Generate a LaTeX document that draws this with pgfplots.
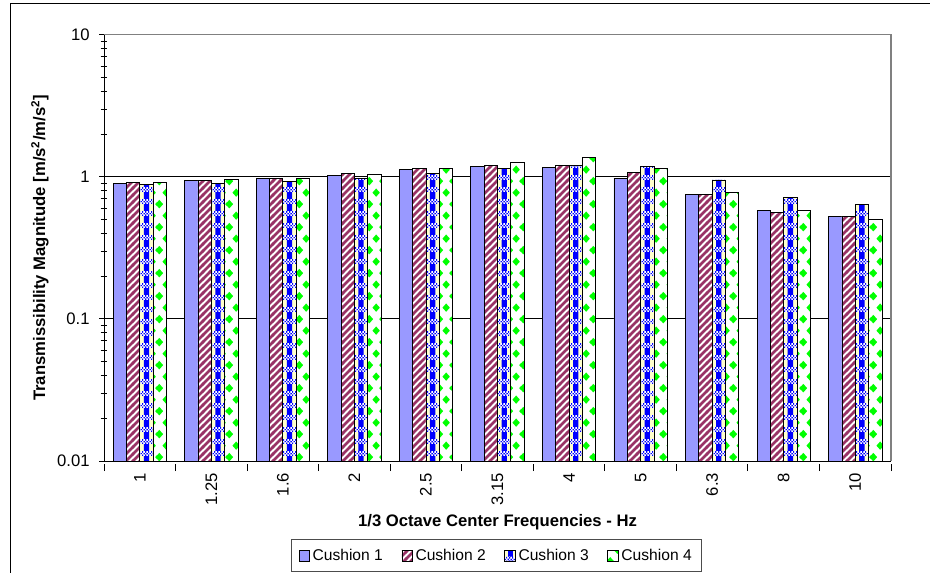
\documentclass[border=0pt]{standalone}
\usepackage{fontspec}
\setmainfont{Liberation Sans}
\usepackage{pgfplots}
\usepackage{pgfplotstable}
\pgfplotsset{compat=1.18}
\usetikzlibrary{patterns}

\definecolor{cA}{HTML}{9999FF}
\definecolor{cB}{HTML}{993366}
\definecolor{cCy}{HTML}{FFFFCC}
\definecolor{cCb}{HTML}{0000FF}
\definecolor{cD}{HTML}{00FF00}

\newcommand\dmd[2]{%
  \pgfpathmoveto{\pgfqpoint{\dimexpr#1pt-2.9pt\relax}{#2pt}}%
  \pgfpathlineto{\pgfqpoint{#1pt}{\dimexpr#2pt+3.2pt\relax}}%
  \pgfpathlineto{\pgfqpoint{\dimexpr#1pt+2.9pt\relax}{#2pt}}%
  \pgfpathlineto{\pgfqpoint{#1pt}{\dimexpr#2pt-3.2pt\relax}}%
  \pgfpathclose}

\pgfdeclarepatternformonly{mystripes}{\pgfqpoint{-1pt}{-1pt}}{\pgfqpoint{6.25pt}{6.25pt}}{\pgfqpoint{5.25pt}{5.25pt}}{%
  \pgfsetlinewidth{1.9pt}%
  \pgfpathmoveto{\pgfqpoint{-0.6pt}{-0.6pt}}%
  \pgfpathlineto{\pgfqpoint{5.85pt}{5.85pt}}%
  \pgfusepath{stroke}}
\pgfdeclarepatternformonly{checkA}{\pgfqpoint{0pt}{0pt}}{\pgfqpoint{2.5pt}{8.75pt}}{\pgfqpoint{2.5pt}{8.75pt}}{%
  \pgfpathrectangle{\pgfqpoint{0pt}{0pt}}{\pgfqpoint{1.25pt}{1.25pt}}%
  \pgfpathrectangle{\pgfqpoint{1.25pt}{1.25pt}}{\pgfqpoint{1.25pt}{1.25pt}}%
  \pgfpathrectangle{\pgfqpoint{0pt}{2.5pt}}{\pgfqpoint{1.25pt}{1.25pt}}%
  \pgfusepath{fill}}
\pgfdeclarepatternformonly{checkB}{\pgfqpoint{0pt}{0pt}}{\pgfqpoint{2.5pt}{8.75pt}}{\pgfqpoint{2.5pt}{8.75pt}}{%
  \pgfpathrectangle{\pgfqpoint{1.25pt}{0pt}}{\pgfqpoint{1.25pt}{1.25pt}}%
  \pgfpathrectangle{\pgfqpoint{0pt}{1.25pt}}{\pgfqpoint{1.25pt}{1.25pt}}%
  \pgfpathrectangle{\pgfqpoint{1.25pt}{2.5pt}}{\pgfqpoint{1.25pt}{1.25pt}}%
  \pgfusepath{fill}}
\pgfdeclarepatternformonly{diamonds}{\pgfqpoint{0pt}{0pt}}{\pgfqpoint{10.725pt}{17.5pt}}{\pgfqpoint{10.725pt}{17.5pt}}{%
  \dmd{7.19}{8.75}%
  \dmd{1.83}{0}\dmd{12.555}{0}\dmd{1.83}{17.5}\dmd{12.555}{17.5}%
  \pgfusepath{fill}}

\pgfplotsset{
  legA/.style={legend image code/.code={\draw[##1, line width=0.5pt] (0pt,-4pt) rectangle (8pt,4pt);}},
  legC/.style={legend image code/.code={\fill[cCy] (0pt,-4pt) rectangle (8pt,4pt);
     \fill[cCb] (2.5pt,-4pt) rectangle (5.5pt,4pt);
     \draw[##1, line width=0.5pt] (0pt,-4pt) rectangle (8pt,4pt);}},
  legD/.style={legend image code/.code={\draw[draw=black, fill=white, line width=0.5pt] (0pt,-4pt) rectangle (8pt,4pt);
     \path[fill=cD] (1.2pt,-3.2pt) -- (6.2pt,0pt) -- (1.2pt,3.2pt) -- cycle;
     \draw[draw=black, line width=0.5pt] (0pt,-4pt) rectangle (8pt,4pt);}},
}

\pgfplotstableread{
x c1 c2 c3 c4
0 0.90 0.91 0.88 0.91
1 0.94 0.94 0.90 0.96
2 0.98 0.98 0.93 0.98
3 1.03 1.05 0.98 1.04
4 1.12 1.14 1.05 1.14
5 1.18 1.21 1.14 1.27
6 1.17 1.21 1.21 1.37
7 0.98 1.07 1.19 1.14
8 0.755 0.755 0.95 0.78
9 0.58 0.56 0.72 0.58
10 0.53 0.53 0.64 0.50
}\data

\begin{document}
\begin{tikzpicture}
\begin{axis}[
  at={(78pt,-345.75pt)}, anchor=south west,
  scale only axis, width=590.25pt, height=319.7pt,
  ymode=log, ymin=0.01, ymax=10, log origin=infty,
  log ticks with fixed point,
  /pgf/number format/assume math mode=true,
  xmin=-0.5, xmax=10.5,
  axis lines=left, axis line style={-, black, line width=0.75pt},
  xtick={0,...,10},
  xticklabels={1,1.25,1.6,2,2.5,3.15,4,5,6.3,8,10},
  major x tick style={draw=none},
  minor xtick={-0.5,0.5,...,10.5},
  minor x tick style={black, line width=0.75pt, yshift=-2.5pt},
  tick align=center,
  major tick length=7.5pt, minor tick length=5pt,
  y tick style={black, line width=0.75pt},
  tick label style={font=\fontsize{12.5}{15}\selectfont},
  xticklabel style={rotate=90, anchor=east},
  xticklabel shift=-2pt,
  yticklabel shift=3.5pt,
  ymajorgrids, major grid style={black, line width=0.75pt},
  ylabel={Transmissibility Magnitude [m/s\textsuperscript{2}/m/s\textsuperscript{2}]},
  xlabel={1/3 Octave Center Frequencies - Hz},
  every axis y label/.style={at={(axis description cs:-0.0813,0.5)}, anchor=center, rotate=90,
     font=\fontsize{12.5}{15}\selectfont\bfseries},
  every axis x label/.style={at={(axis description cs:0.5,-0.143)}, anchor=center,
     font=\fontsize{12.5}{15}\selectfont\bfseries},
  ybar, bar width=10pt,
  legend columns=4,
  legend style={at={(axis description cs:0.4987,-0.2217)}, anchor=center,
    draw=black!70, line width=0.75pt, font=\fontsize{11.7}{14}\selectfont,
    inner xsep=5pt, inner ysep=5pt,
    /tikz/every even column/.append style={column sep=12pt}},
  after end axis/.code={
    \draw[gray, line width=0.9pt] (rel axis cs:0,1) -- (rel axis cs:1,1) -- (rel axis cs:1,0);
  },
]
\addplot[bar shift=-15pt, fill=cA, draw=black, line width=0.6pt, legA]
  table[x=x, y=c1] {\data};
\addlegendentry{Cushion 1}
\addplot[bar shift=-5pt, fill=white, draw=black, line width=0.6pt,
  postaction={pattern=mystripes, pattern color=cB}, legA]
  table[x=x, y=c2] {\data};
\addlegendentry{Cushion 2}
\addplot[bar shift=5pt, fill=cCy, draw=none, forget plot]
  table[x=x, y=c3] {\data};
\addplot[bar shift=5pt, bar width=4pt, fill=cCb, draw=none, forget plot]
  table[x=x, y=c3] {\data};
\addplot[bar shift=5pt, draw=black, line width=0.6pt,
  pattern=checkA, pattern color=cCb,
  postaction={pattern=checkB, pattern color=white}, legC]
  table[x=x, y=c3] {\data};
\addlegendentry{Cushion 3}
\addplot[bar shift=15pt, fill=white, draw=black, line width=0.6pt,
  postaction={pattern=diamonds, pattern color=cD}, legD]
  table[x=x, y=c4] {\data};
\addlegendentry{Cushion 4}
\end{axis}
\draw[line width=0.75pt] (7.9pt,-440pt) -- (7.9pt,-3pt) -- (710pt,-3pt);
\pgfresetboundingbox
\useasboundingbox (0,0) rectangle (697.5pt,-429.75pt);
\end{tikzpicture}
\end{document}
